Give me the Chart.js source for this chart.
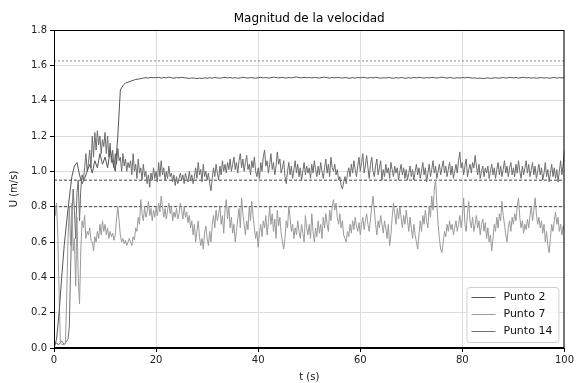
<!DOCTYPE html>
<html>
<head>
<meta charset="utf-8">
<script src="https://cdn.jsdelivr.net/npm/chart.js@4.4.1/dist/chart.umd.min.js"></script>
<style>
    html, body { margin: 0; padding: 0; background: #fff; }
    #wrap { width: 576px; height: 383px; }
</style>
</head>
<body>
<div id="wrap"><canvas id="velChart" width="576" height="383"></canvas></div>
<script>
// Sampling steps (s) of the stored series
const stepFine = 0.25;
const stepCoarse = 0.5;

// Punto 2, every 0.5 s from t = 0 to 100
const punto2 = [
    0.0, 0.05, 0.2, 0.4, 0.58, 0.72, 0.85, 0.97, 1.03, 1.05, 0.98, 0.93, 0.96, 1.0, 1.04, 0.99, 1.06, 1.02, 1.1, 1.04,
    1.08, 1.02, 1.12, 1.05, 1.0, 1.2, 1.46, 1.485, 1.5, 1.505, 1.51, 1.515, 1.52, 1.522, 1.525, 1.528, 1.53, 1.528, 1.532, 1.53,
    1.53, 1.532, 1.528, 1.531, 1.529, 1.533, 1.53, 1.527, 1.531, 1.529, 1.532, 1.53, 1.528, 1.526, 1.529, 1.527, 1.525, 1.528, 1.526, 1.529,
    1.527, 1.53, 1.528, 1.531, 1.529, 1.527, 1.53, 1.532, 1.529, 1.531, 1.528, 1.53, 1.527, 1.529, 1.532, 1.53, 1.528, 1.531, 1.529, 1.527,
    1.53, 1.532, 1.529, 1.531, 1.528, 1.53, 1.533, 1.531, 1.529, 1.532, 1.53, 1.528, 1.531, 1.529, 1.532, 1.534, 1.531, 1.529, 1.532, 1.53,
    1.531, 1.529, 1.532, 1.53, 1.528, 1.531, 1.533, 1.53, 1.528, 1.531, 1.529, 1.532, 1.53, 1.528, 1.531, 1.529, 1.527, 1.53, 1.528, 1.531,
    1.529, 1.532, 1.53, 1.528, 1.531, 1.529, 1.532, 1.53, 1.527, 1.53, 1.528, 1.531, 1.529, 1.527, 1.53, 1.528, 1.531, 1.529, 1.527, 1.53,
    1.528, 1.531, 1.529, 1.532, 1.53, 1.528, 1.531, 1.529, 1.532, 1.53, 1.528, 1.531, 1.533, 1.53, 1.528, 1.531, 1.529, 1.527, 1.53, 1.528,
    1.531, 1.529, 1.532, 1.53, 1.527, 1.529, 1.526, 1.528, 1.525, 1.527, 1.529, 1.526, 1.528, 1.53, 1.527, 1.529, 1.531, 1.528, 1.53, 1.532,
    1.529, 1.531, 1.528, 1.53, 1.532, 1.529, 1.531, 1.528, 1.53, 1.527, 1.529, 1.531, 1.528, 1.53, 1.527, 1.529, 1.531, 1.528, 1.53, 1.529,
    1.53
];

// Punto 7, every 0.25 s
const punto7 = [
    0.87, 0.75, 0.82, 0.63, 0.3, 0.03, 0.02, 0.02, 0.02, 0.03, 0.3, 0.62, 0.8, 0.58, 0.82, 0.55, 0.62, 0.35, 0.74, 0.4,
    0.25, 0.55, 0.72, 0.68, 0.75, 0.62, 0.66, 0.64, 0.68, 0.61, 0.6, 0.55, 0.63, 0.6, 0.66, 0.62, 0.7, 0.64, 0.72, 0.66,
    0.7, 0.64, 0.68, 0.62, 0.66, 0.63, 0.65, 0.61, 0.64, 0.73, 0.8, 0.72, 0.64, 0.6, 0.62, 0.59, 0.61, 0.58, 0.6, 0.62,
    0.6, 0.58, 0.63, 0.61, 0.68, 0.66, 0.74, 0.7, 0.84, 0.76, 0.72, 0.8, 0.74, 0.77, 0.83, 0.75, 0.79, 0.72, 0.78, 0.74,
    0.8, 0.75, 0.82, 0.77, 0.86, 0.8, 0.74, 0.79, 0.73, 0.78, 0.82, 0.76, 0.8, 0.72, 0.77, 0.74, 0.79, 0.73, 0.76, 0.82,
    0.78, 0.73, 0.8, 0.74, 0.77, 0.71, 0.75, 0.68, 0.72, 0.64, 0.7, 0.6, 0.66, 0.72, 0.63, 0.58, 0.62, 0.56, 0.65, 0.69,
    0.62, 0.58, 0.66, 0.6, 0.7, 0.75, 0.68, 0.78, 0.72, 0.76, 0.8, 0.7, 0.75, 0.65, 0.78, 0.84, 0.73, 0.8, 0.68, 0.74,
    0.65, 0.7, 0.6, 0.66, 0.73, 0.79, 0.68, 0.85, 0.76, 0.7, 0.64, 0.72, 0.67, 0.8, 0.72, 0.83, 0.75, 0.68, 0.62, 0.66,
    0.57, 0.65, 0.7, 0.63, 0.72, 0.68, 0.75, 0.64, 0.71, 0.8, 0.7, 0.76, 0.66, 0.73, 0.62, 0.78, 0.69, 0.74, 0.65, 0.6,
    0.56, 0.62, 0.72, 0.68, 0.8, 0.74, 0.66, 0.7, 0.62, 0.68, 0.64, 0.72, 0.66, 0.62, 0.7, 0.65, 0.6, 0.75, 0.68, 0.64,
    0.7, 0.62, 0.76, 0.66, 0.6, 0.68, 0.63, 0.72, 0.65, 0.7, 0.62, 0.74, 0.68, 0.76, 0.7, 0.66, 0.78, 0.72, 0.8, 0.84,
    0.78, 0.82, 0.74, 0.7, 0.76, 0.68, 0.72, 0.64, 0.62, 0.6, 0.66, 0.63, 0.7, 0.65, 0.72, 0.67, 0.74, 0.69, 0.66, 0.71,
    0.64, 0.7, 0.74, 0.67, 0.72, 0.76, 0.7, 0.66, 0.73, 0.8, 0.86, 0.78, 0.7, 0.64, 0.72, 0.68, 0.75, 0.7, 0.65, 0.72,
    0.68, 0.62, 0.7, 0.58, 0.64, 0.74, 0.82, 0.76, 0.7, 0.79, 0.73, 0.8, 0.74, 0.68, 0.75, 0.7, 0.78, 0.72, 0.66, 0.74,
    0.68, 0.62, 0.7, 0.64, 0.6, 0.56, 0.64, 0.72, 0.66, 0.75, 0.7, 0.78, 0.72, 0.68, 0.8, 0.74, 0.86, 0.78, 0.9, 0.95,
    0.82, 0.7, 0.62, 0.56, 0.54, 0.6, 0.66, 0.63, 0.7, 0.66, 0.72, 0.67, 0.7, 0.64, 0.68, 0.72, 0.66, 0.7, 0.75, 0.68,
    0.74, 0.85, 0.7, 0.66, 0.76, 0.83, 0.72, 0.68, 0.74, 0.66, 0.7, 0.75, 0.68, 0.72, 0.64, 0.7, 0.73, 0.66, 0.71, 0.62,
    0.68, 0.6, 0.64, 0.55, 0.62, 0.7, 0.66, 0.74, 0.68, 0.76, 0.72, 0.83, 0.75, 0.7, 0.64, 0.6, 0.68, 0.72, 0.66, 0.74,
    0.7, 0.76, 0.72, 0.8, 0.85, 0.74, 0.68, 0.72, 0.65, 0.7, 0.67, 0.73, 0.68, 0.75, 0.8, 0.72, 0.78, 0.85, 0.76, 0.7,
    0.74, 0.68, 0.72, 0.65, 0.7, 0.6, 0.66, 0.58, 0.54, 0.62, 0.7, 0.66, 0.72, 0.77, 0.7, 0.74, 0.66, 0.7, 0.64, 0.69,
    0.67
];

// Punto 14, every 0.25 s
const punto14 = [
    0.02, 0.02, 0.03, 0.02, 0.02, 0.03, 0.04, 0.03, 0.02, 0.03, 0.04, 0.05, 0.12, 0.45, 0.72, 0.9, 0.78, 0.62, 0.88, 0.95,
    0.72, 0.9, 0.98, 0.95, 1.02, 1.1, 1.0, 1.05, 1.12, 1.02, 1.2, 1.08, 1.22, 1.12, 1.23, 1.15, 1.2, 1.1, 1.18, 1.14,
    1.22, 1.1, 1.2, 1.08, 1.16, 1.05, 1.12, 1.02, 1.1, 1.04, 1.13, 1.06, 1.08, 1.0, 1.1, 1.03, 1.07, 1.0, 1.05, 1.02,
    1.06, 0.98, 1.1, 1.0, 1.04, 0.96, 1.07, 0.99, 1.02, 0.95, 1.04, 0.97, 1.0, 0.93, 0.98, 0.91, 0.99, 0.95, 1.02, 0.96,
    1.0, 0.94, 1.05, 0.97, 1.06, 0.98, 1.02, 0.95, 1.0, 0.96, 1.03, 0.97, 0.99, 0.94, 0.98, 0.92, 0.97, 0.93, 0.96, 0.99,
    0.95, 0.98, 0.93, 0.99, 0.96, 0.94, 1.0, 0.95, 0.98, 0.93, 0.97, 1.02, 0.96, 1.05, 0.98, 1.01, 0.94, 1.04, 0.97, 1.0,
    0.95, 0.99, 0.93, 0.89, 0.96, 1.02, 0.97, 1.04, 0.99, 0.95, 1.03, 0.98, 1.06, 1.0, 1.04, 0.99, 1.05, 1.01, 1.07, 1.0,
    1.04, 1.08, 1.01, 1.05, 0.99, 1.06, 1.1, 1.02, 1.07, 1.0, 1.05, 1.09, 1.01, 1.04, 0.98, 1.06, 1.02, 1.08, 1.0, 0.97,
    1.02, 0.96, 1.05, 1.0, 1.08, 1.12, 1.03, 1.06, 0.99, 1.04, 1.1, 1.01, 1.05, 0.98, 1.03, 1.11, 1.04, 1.07, 0.99, 1.02,
    1.06, 0.97, 0.93, 1.0, 1.05, 0.98, 1.03, 0.96, 1.01, 1.06, 0.99, 1.04, 0.97, 1.02, 0.95, 1.0, 1.05, 0.98, 1.03, 0.99,
    1.02, 0.96, 1.04, 0.99, 1.06, 1.01, 0.97, 1.03, 0.98, 1.05, 1.0, 0.96, 1.02, 1.07, 0.99, 1.04, 0.97, 1.08, 1.02, 1.0,
    1.04, 0.98, 1.01, 0.95, 0.97, 0.92, 0.9, 0.94, 0.97, 0.93, 0.99, 1.02, 0.97, 1.04, 0.99, 1.06, 1.01, 0.97, 1.03, 1.08,
    1.0, 1.05, 1.1, 0.99, 1.03, 1.09, 1.02, 0.96, 1.04, 1.08, 1.0, 0.97, 1.03, 1.07, 0.98, 1.02, 1.06, 0.95, 1.01, 0.97,
    1.04, 0.99, 1.02, 0.96, 1.05, 1.01, 0.97, 1.03, 0.99, 1.02, 0.95, 1.0, 1.04, 0.98, 1.02, 0.96, 1.01, 0.95, 0.99, 1.03,
    0.97, 1.01, 0.95, 1.0, 1.04, 0.98, 1.02, 0.96, 1.0, 1.05, 0.98, 1.02, 0.94, 0.99, 1.04, 0.97, 1.01, 1.06, 0.99, 1.03,
    0.96, 1.0, 1.04, 0.98, 1.02, 1.06, 0.99, 1.03, 0.97, 1.01, 1.05, 0.98, 1.03, 0.96, 1.0, 1.04, 0.99, 1.06, 1.11, 1.02,
    1.05, 0.98, 1.03, 1.07, 0.97, 1.01, 1.04, 0.99, 1.05, 1.02, 1.09, 1.03, 0.98, 1.04, 0.96, 1.0, 1.03, 0.97, 1.02, 0.99,
    1.03, 0.96, 1.0, 1.04, 0.98, 1.02, 0.96, 1.01, 1.05, 0.98, 1.03, 0.97, 1.01, 1.06, 0.99, 1.03, 0.97, 1.02, 1.05, 0.98,
    1.02, 0.97, 1.04, 0.99, 1.06, 1.0, 0.96, 1.03, 0.98, 1.02, 1.06, 0.99, 1.04, 0.97, 1.01, 1.05, 0.98, 1.03, 0.96, 1.0,
    1.04, 0.98, 1.02, 0.95, 0.99, 1.05, 0.97, 1.01, 0.94, 0.99, 1.04, 0.97, 1.02, 0.96, 1.01, 0.94, 1.0, 1.06, 0.98, 1.04,
    1.12
];

// Reference levels (m/s)
const dottedLevels = [1.625];
const dashedLevels = [0.95, 0.80];

const seriesNames = ['Punto 2', 'Punto 7', 'Punto 14'];
const seriesColors = ['#555555', '#9a9a9a', '#6e6e6e'];

const xTicks = [0, 20, 40, 60, 80, 100];
const yTicks = [0.0, 0.2, 0.4, 0.6, 0.8, 1.0, 1.2, 1.4, 1.6, 1.8];

function toPoints(values, step) {
    return values.map((v, i) => ({ x: i * step, y: v }));
}

function levelLine(level, color, dash) {
    return {
        data: [{ x: xTicks[0], y: level }, { x: xTicks[xTicks.length - 1], y: level }],
        borderColor: color,
        borderWidth: 1,
        borderDash: dash,
        pointRadius: 0,
        fill: false
    };
}

const mainSets = [
    { label: seriesNames[0], data: toPoints(punto2, stepCoarse), borderColor: seriesColors[0] },
    { label: seriesNames[1], data: toPoints(punto7, stepFine), borderColor: seriesColors[1] },
    { label: seriesNames[2], data: toPoints(punto14, stepFine), borderColor: seriesColors[2] }
].map(ds => Object.assign(ds, { borderWidth: 1, pointRadius: 0, fill: false, tension: 0 }));

const refSets = [
    ...dottedLevels.map(l => levelLine(l, '#8a8a8a', [2, 2])),
    ...dashedLevels.map(l => levelLine(l, '#444444', [3, 2]))
];

// Frame, title and legend box drawn like matplotlib
const framePlugin = {
    id: 'frame',
    afterDraw(chart) {
        const { ctx, chartArea: a } = chart;
        ctx.save();
        ctx.strokeStyle = '#000';
        ctx.lineWidth = 1;
        ctx.strokeRect(a.left + 0.5, a.top + 0.5, a.right - a.left - 1, a.bottom - a.top - 1);

        ctx.fillStyle = '#000';
        ctx.font = '12px "DejaVu Sans"';
        ctx.textAlign = 'center';
        ctx.textBaseline = 'bottom';
        ctx.fillText('Magnitud de la velocidad', (a.left + a.right) / 2, a.top - 5);

        // legend
        const bw = 92, bh = 55;
        const bx = a.right - bw - 6, by = a.bottom - bh - 6;
        ctx.fillStyle = 'rgba(255,255,255,0.85)';
        ctx.strokeStyle = '#d0d0d0';
        ctx.beginPath();
        ctx.roundRect(bx + 0.5, by + 0.5, bw, bh, 3);
        ctx.fill();
        ctx.stroke();
        ctx.font = '11px "DejaVu Sans"';
        ctx.textAlign = 'left';
        ctx.textBaseline = 'middle';
        seriesNames.forEach((name, i) => {
            const yy = by + 10 + i * 17;
            ctx.strokeStyle = seriesColors[i];
            ctx.beginPath();
            ctx.moveTo(bx + 5, yy + 0.5);
            ctx.lineTo(bx + 29, yy + 0.5);
            ctx.stroke();
            ctx.fillStyle = '#111';
            ctx.fillText(name, bx + 37, yy);
        });
        ctx.restore();
    }
};

const ctx = document.getElementById('velChart').getContext('2d');
const velChart = new Chart(ctx, {
    type: 'line',
    data: { datasets: [...mainSets, ...refSets] },
    options: {
        responsive: false,
        animation: false,
        layout: { padding: { top: 30, right: 11, left: 0, bottom: 0 } },
        plugins: {
            legend: { display: false },
            title: { display: false },
            tooltip: { enabled: false }
        },
        scales: {
            x: {
                type: 'linear',
                min: xTicks[0],
                max: xTicks[xTicks.length - 1],
                afterBuildTicks: scale => { scale.ticks = xTicks.map(v => ({ value: v })); },
                afterFit: scale => { scale.height = 35; },
                ticks: {
                    color: '#222',
                    font: { family: 'DejaVu Sans', size: 10 },
                    padding: 2,
                    maxRotation: 0,
                    callback: v => String(v)
                },
                grid: { color: '#dcdcdc', tickColor: '#000', tickLength: 4 },
                border: { color: '#000' },
                title: {
                    display: true,
                    text: 't (s)',
                    color: '#111',
                    font: { family: 'DejaVu Sans', size: 10 },
                    padding: { top: 2, bottom: 0 }
                }
            },
            y: {
                type: 'linear',
                min: yTicks[0],
                max: yTicks[yTicks.length - 1],
                afterBuildTicks: scale => { scale.ticks = yTicks.map(v => ({ value: v })); },
                afterFit: scale => { scale.width = 54; },
                ticks: {
                    color: '#222',
                    font: { family: 'DejaVu Sans', size: 10 },
                    padding: 3,
                    callback: v => Number(v).toFixed(1)
                },
                grid: { color: '#dcdcdc', tickColor: '#000', tickLength: 4 },
                border: { color: '#000' },
                title: {
                    display: true,
                    text: 'U (m/s)',
                    color: '#111',
                    font: { family: 'DejaVu Sans', size: 10 },
                    padding: { top: 8, bottom: 4 }
                }
            }
        }
    },
    plugins: [framePlugin]
});
</script>
</body>
</html>
